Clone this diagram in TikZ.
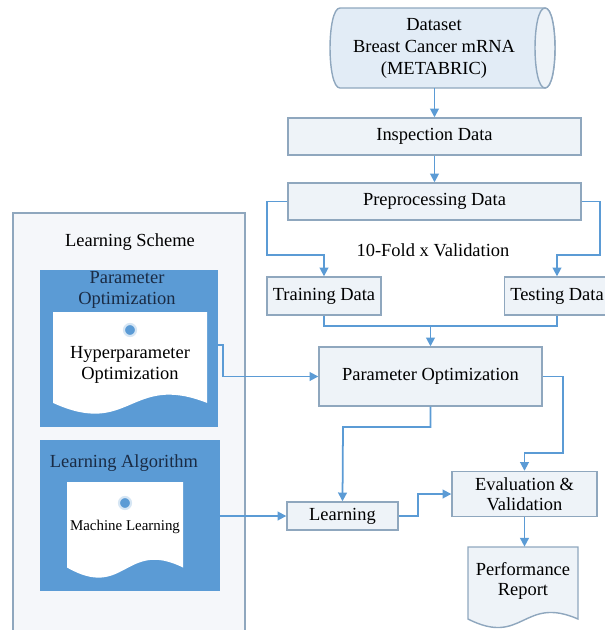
\documentclass[tikz,border=0pt]{standalone}
\usepackage{fontspec}
\setmainfont{Liberation Serif}
\usetikzlibrary{calc}
\usetikzlibrary{arrows.meta}
\definecolor{flowblue}{HTML}{5B9BD5}
\definecolor{boxedge}{HTML}{8FA7BE}
\definecolor{boxfill}{HTML}{EEF3F8}
\definecolor{drumfill}{HTML}{E2ECF6}
\definecolor{panelfill}{HTML}{F5F7FA}
\definecolor{titleink}{HTML}{1A2B44}
\tikzstyle{flow}=[-{Triangle[width=5pt,length=5pt]},draw=flowblue,line width=1pt]
\tikzstyle{flowline}=[draw=flowblue,line width=1pt]
\tikzstyle{plaintext}=[align=center,inner sep=1pt,font=\fontsize{10.5pt}{11.5pt}\selectfont]
\tikzstyle{stepbox}=[rectangle,draw=boxedge,fill=boxfill,line width=0.8pt,align=center,font=\fontsize{10.5pt}{11.5pt}\selectfont]
\tikzstyle{bluepanel}=[rectangle,fill=flowblue,draw=none]
\tikzstyle{paneltitle}=[align=center,inner sep=1pt,text=titleink,font=\fontsize{10.5pt}{11.5pt}\selectfont]
\tikzstyle{dot}=[circle,fill=flowblue,draw=flowblue!25,line width=1.2pt,minimum size=0.24cm,inner sep=0pt]
\newcommand{\drawdoc}[5]{
\pgfmathsetmacro{\docx}{#1}
\pgfmathsetmacro{\docy}{#2}
\pgfmathsetmacro{\docw}{#3}
\pgfmathsetmacro{\doch}{#4}
\path[#5] (\docx,\docy) -- (\docx+\docw,\docy) -- (\docx+\docw,\docy+0.9*\doch)
  .. controls (\docx+0.5*\docw,\docy+0.6*\doch) and (\docx+0.5*\docw,\docy+1.25*\doch) .. (\docx,\docy+0.9*\doch) -- cycle;
}
% lying drum: left end x, right end centre x, top y, bottom y, end radius
\newcommand{\drawdrum}[5]{
\pgfmathsetmacro{\drl}{#1+#5}
\pgfmathsetmacro{\drr}{#2}
\pgfmathsetmacro{\drt}{#3}
\pgfmathsetmacro{\drb}{#4}
\pgfmathsetmacro{\drk}{1.33*#5}
\draw[draw=boxedge,fill=drumfill,line width=0.8pt] (\drl,\drt) -- (\drr,\drt)
  .. controls (\drr+\drk,\drt) and (\drr+\drk,\drb) .. (\drr,\drb) -- (\drl,\drb)
  .. controls (\drl-\drk,\drb) and (\drl-\drk,\drt) .. (\drl,\drt) -- cycle;
\draw[draw=boxedge,fill=boxfill,line width=0.8pt] (\drr,\drt)
  .. controls (\drr-\drk,\drt) and (\drr-\drk,\drb) .. (\drr,\drb)
  .. controls (\drr+\drk,\drb) and (\drr+\drk,\drt) .. (\drr,\drt) -- cycle;
}

\begin{document}
\begin{tikzpicture}[x=0.02cm,y=-0.02cm]
  \useasboundingbox (0,0) rectangle (605,630);
  \clip (0,0) rectangle (605,630);

  % learning scheme panel
  \draw[draw=boxedge,fill=panelfill,line width=0.8pt] (13,213) rectangle (245,660);
  \node[plaintext] (schemelbl) at (130,242) {Learning Scheme};

  \node[bluepanel,minimum width=3.56cm,minimum height=3.14cm] (paramblue) at (129,348.5) {};
  \node[paneltitle] (paramtitle) at (127,290) {Parameter\\Optimization};
  \drawdoc{53}{312}{154}{101}{fill=white}
  \node[dot] (hyperdot) at (130,330) {};
  \node[plaintext] (hyper) at (130,365) {Hyperparameter\\Optimization};

  \node[bluepanel,minimum width=3.6cm,minimum height=3.02cm] (algoblue) at (130,515.5) {};
  \node[paneltitle] (algotitle) at (124,463) {Learning Algorithm};
  \drawdoc{67}{482}{116}{95}{fill=white}
  \node[dot] (mldot) at (125,503) {};
  \node[plaintext,font=\fontsize{8.5pt}{10pt}\selectfont] (ml) at (125,527) {Machine Learning};

  % main flow
  \drawdrum{330}{545}{8}{88}{10}
  \node[align=center,minimum height=1.6cm,inner sep=0pt,font=\fontsize{10.5pt}{12.5pt}\selectfont] (data) at (434,48)
        {Dataset\\Breast Cancer mRNA\\(METABRIC)};
  \node[stepbox,minimum width=5.86cm,minimum height=0.74cm] (inspect) at (434.5,136.5) {Inspection Data};
  \node[stepbox,minimum width=5.86cm,minimum height=0.74cm] (prep) at (434.5,201.5) {Preprocessing Data};
  \node[plaintext] (foldlbl) at (433,250) {10-Fold x Validation};
  \node[stepbox,minimum width=2.24cm,minimum height=0.76cm] (train) at (324,296) {Training Data};
  \node[stepbox,minimum width=2.0cm,minimum height=0.76cm] (test) at (557,296) {Testing Data};
  \node[stepbox,minimum width=4.46cm,minimum height=1.18cm] (paramopt) at (430.5,376.5) {Parameter Optimization};
  \node[stepbox,minimum width=2.22cm,minimum height=0.56cm] (learn) at (342.5,516) {Learning};
  \node[stepbox,minimum width=2.9cm,minimum height=0.76cm] (eval) at (524.5,494) {Evaluation \&\\Validation};
  \drawdoc{468}{547}{110}{80}{draw=boxedge,fill=boxfill,line width=0.8pt}
  \node[plaintext,minimum width=2.2cm,minimum height=1.36cm] (perf) at (523,581) {Performance\\Report};

  \coordinate (lsplit) at (267,255);
  \coordinate (rsplit) at (600,255);
  \coordinate (merge) at (430.5,326);
  \coordinate (rbend) at (563,453);
  \coordinate (lbend) at (343,427);

  \draw[flow] (inspect.north |- data.south) -- (inspect.north);
  \draw[flow] (inspect) -- (prep);
  \draw[flow] (prep.west) -| (lsplit) -| (train.north);
  \draw[flow] (prep.east) -| (rsplit) -| (test.north);
  \draw[flowline] (train.south) |- (merge);
  \draw[flowline] (test.south) |- (merge);
  \draw[flow] (merge) -- (paramopt.north);
  \draw[flow] (paramblue.east |- hyper.north) -- ++(5,0) |- (paramopt.west);
  \draw[flow] (paramopt.east) -| (rbend) -| (eval.north);
  \draw[flow] (paramopt.south) |- (lbend) -- (learn.north);
  \draw[flow] (algoblue.east |- learn.west) -- (learn.west);
  \draw[flow] (learn.east) -- ++(19,0) |- (eval.west);
  \draw[flow] (eval.south) -- (eval.south |- perf.north);
\end{tikzpicture}
\end{document}
